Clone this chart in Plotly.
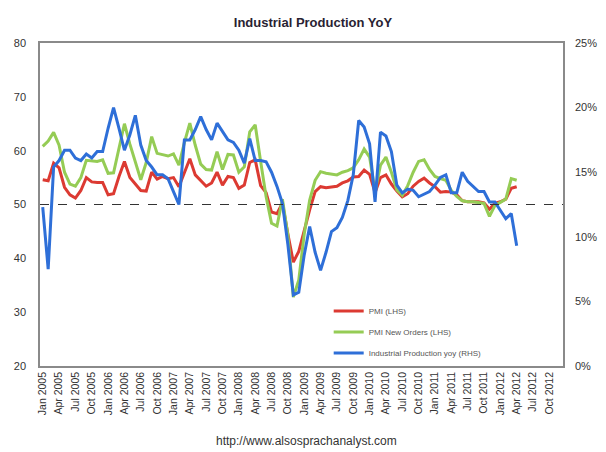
import plotly.graph_objects as go

# monthly categories Jan 2005 .. Dec 2012
years = list(range(2005, 2013))
month_names = ["Jan", "Feb", "Mar", "Apr", "May", "Jun", "Jul", "Aug", "Sep", "Oct", "Nov", "Dec"]
months = [f"{m} {y}" for y in years for m in month_names]
tick_labels = [f"{m} {y}" for y in years for m in ["Jan", "Apr", "Jul", "Oct"]]

# PMI (LHS), Jan 2005 .. Apr 2012
pmi = [54.6, 54.4, 57.7, 56.8, 53.2, 51.8, 51.2, 52.6, 55.0, 54.2, 54.1, 54.1,
       51.8, 52.0, 55.2, 58.0, 55.0, 53.8, 52.6, 52.5, 56.0, 54.7, 55.2, 54.8,
       55.0, 53.3, 56.0, 58.5, 55.5, 54.4, 53.4, 54.0, 56.0, 53.6, 55.2, 55.0,
       53.0, 53.6, 57.8, 58.3, 53.5, 52.2, 48.6, 48.3, 50.3, 44.5, 39.3, 41.3,
       45.3, 49.0, 52.4, 53.3, 53.1, 53.2, 53.4, 54.0, 54.4, 55.1, 55.2, 56.4,
       55.6, 52.2, 55.0, 55.5, 53.8, 52.5, 51.4, 52.0, 53.4, 54.3, 54.9, 54.0,
       53.3, 52.3, 52.4, 52.3, 51.8, 50.7, 50.5, 50.5, 50.5, 50.3, 49.1, 50.2,
       50.5, 51.0, 53.0, 53.3]

# PMI New Orders (LHS)
new_orders = [60.8, 61.8, 63.4, 61.0, 56.0, 53.8, 53.4, 55.0, 58.2, 58.1, 58.0, 58.3,
              55.8, 55.9, 60.5, 65.0, 61.2, 58.0, 54.6, 57.8, 62.6, 59.5, 59.2, 59.0,
              59.4, 57.3, 61.5, 65.1, 61.0, 57.5, 56.5, 56.4, 59.8, 56.5, 59.3, 59.2,
              56.0, 57.0, 63.5, 64.8, 58.0, 51.5, 46.5, 46.0, 51.0, 44.3, 32.8, 36.0,
              44.5, 50.8, 54.5, 56.1, 55.8, 55.6, 55.5, 56.0, 56.3, 56.8, 58.3, 60.3,
              58.8, 52.4, 57.3, 58.8, 56.0, 52.7, 51.7, 53.5, 56.0, 58.0, 58.3, 56.5,
              55.2, 54.8, 54.5, 52.6, 51.5, 50.7, 50.5, 50.5, 50.4, 50.2, 47.8, 49.8,
              50.4, 51.0, 54.8, 54.5]

# Industrial Production yoy (RHS)
ip_yoy = [0.123, 0.075, 0.154, 0.159, 0.167, 0.167, 0.161, 0.159, 0.164, 0.161, 0.166, 0.166,
          0.184, 0.200, 0.184, 0.167, 0.179, 0.194, 0.171, 0.159, 0.154, 0.148, 0.148, 0.145,
          0.135, 0.125, 0.175, 0.175, 0.183, 0.193, 0.183, 0.175, 0.188, 0.181, 0.175, 0.173,
          0.167, 0.157, 0.176, 0.159, 0.159, 0.158, 0.150, 0.139, 0.126, 0.094, 0.055, 0.057,
          0.086, 0.108, 0.088, 0.074, 0.088, 0.104, 0.107, 0.115, 0.128, 0.148, 0.190, 0.185,
          0.172, 0.127, 0.181, 0.178, 0.166, 0.140, 0.134, 0.137, 0.136, 0.131, 0.133, 0.135,
          0.140, 0.146, 0.148, 0.134, 0.134, 0.150, 0.143, 0.139, 0.135, 0.135, 0.127, 0.127,
          0.120, 0.114, 0.118, 0.093]

n = len(pmi)
fig = go.Figure()
fig.add_trace(go.Scatter(x=months[:n], y=pmi, name="PMI (LHS)", mode="lines",
                         legendgroup="a", line=dict(color="#dc3a32", width=3)))
fig.add_trace(go.Scatter(x=months[:n], y=new_orders, name="PMI New Orders (LHS)", mode="lines",
                         legendgroup="b", line=dict(color="#95cc55", width=3)))
fig.add_trace(go.Scatter(x=months[:n], y=ip_yoy, name="Industrial Production yoy (RHS)", mode="lines",
                         legendgroup="c", line=dict(color="#2e6fd8", width=3), yaxis="y2"))

fig.add_shape(type="line", xref="paper", x0=0, x1=1, yref="y", y0=50, y1=50,
              line=dict(color="#333333", width=1, dash="dash"))

fig.add_annotation(text="http://www.alsosprachanalyst.com", xref="paper", yref="paper",
                   x=0.51, y=-0.232, showarrow=False, yanchor="middle",
                   font=dict(size=12, color="#333333"))

# the page body adds 8px around the figure, so the figure is 8px smaller each way
fig.update_layout(
    width=598, height=444,
    margin=dict(l=32, r=43, t=35, b=86),
    paper_bgcolor="white", plot_bgcolor="white",
    font=dict(family="Liberation Sans, Arial", size=11, color="#333333"),
    title=dict(text="<b>Industrial Production YoY</b>", x=0.51, xanchor="center",
               y=0.968, yanchor="middle", font=dict(size=13, color="#2a1f33")),
    showlegend=True,
    legend=dict(x=0.552, y=0.215, xanchor="left", yanchor="top",
                bgcolor="rgba(0,0,0,0)", font=dict(size=8, color="#555555"),
                tracegroupgap=2),
    xaxis=dict(type="category", categoryorder="array", categoryarray=months,
               range=[-0.5, len(months) - 0.5], tickmode="array",
               tickvals=tick_labels, ticktext=tick_labels, tickangle=-90,
               tickfont=dict(size=10.5), showgrid=False, zeroline=False,
               showline=True, mirror=True, linecolor="#8a8a8a", linewidth=1.5,
               ticks="", automargin=False),
    yaxis=dict(range=[20, 80], dtick=10, showgrid=False, zeroline=False,
               showline=True, mirror=True, linecolor="#8a8a8a", linewidth=1.5,
               ticks="", ticklabelstandoff=10, tickfont=dict(size=11), automargin=False),
    yaxis2=dict(range=[0, 0.25], dtick=0.05, tickformat=".0%", overlaying="y",
                side="right", showgrid=False, zeroline=False, ticks="",
                ticklabelstandoff=11, tickfont=dict(size=11), automargin=False),
)

fig.write_html("out.html")
